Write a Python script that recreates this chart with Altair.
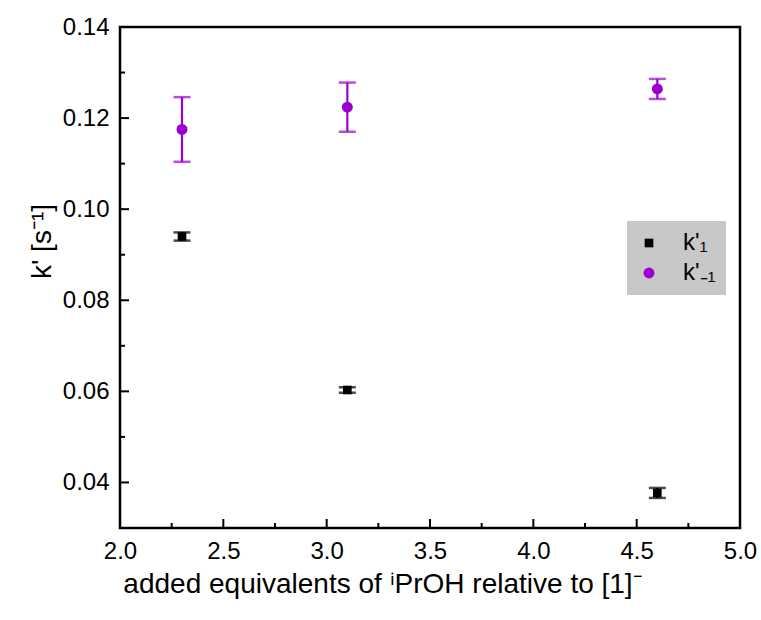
import altair as alt
import pandas as pd

# data
x_vals = [2.3, 3.1, 4.6]
k1 = [0.0940, 0.0603, 0.0377]
k1_err = [0.0009, 0.0006, 0.0011]
km1 = [0.1175, 0.1224, 0.1264]
km1_err = [0.0071, 0.0054, 0.0022]
series_names = ["k'\u2081", "k'\u208b\u2081"]
colors = ["#000000", "#9B00D0"]

y_major = [0.04, 0.06, 0.08, 0.10, 0.12, 0.14]
y_minor = [0.03, 0.05, 0.07, 0.09, 0.11, 0.13]
x_major = [2.0, 2.5, 3.0, 3.5, 4.0, 4.5, 5.0]
x_minor = [2.25, 2.75, 3.25, 3.75, 4.25, 4.75]

rows = []
for xv, v, e in zip(x_vals, k1, k1_err):
    rows.append({"x": xv, "y": v, "lo": v - e, "hi": v + e, "s": series_names[0]})
for xv, v, e in zip(x_vals, km1, km1_err):
    rows.append({"x": xv, "y": v, "lo": v - e, "hi": v + e, "s": series_names[1]})
df = pd.DataFrame(rows)

FONT = "Liberation Sans"
xscale = alt.Scale(domain=[2.0, 5.0], nice=False, zero=False)
yscale = alt.Scale(domain=[0.03, 0.14], nice=False, zero=False)
cscale = alt.Scale(domain=series_names, range=colors)

base = alt.Chart(df)

points = base.mark_point(filled=True, opacity=1).encode(
    x=alt.X("x:Q", scale=xscale,
            axis=alt.Axis(values=x_major, format=".1f",
                          title="added equivalents of \u2071PrOH relative to [1]\u207b",
                          titlePadding=7, labelFontSize=24, titleFontSize=28,
                          labelFont=FONT, titleFont=FONT, labelPadding=11,
                          labelFlush=False, titleX=262, titleAlign="center")),
    y=alt.Y("y:Q", scale=yscale,
            axis=alt.Axis(values=y_major, format=".2f", title="k' [s\u207b\u00b9]",
                          titlePadding=6, labelFontSize=24, titleFontSize=28,
                          labelFont=FONT, titleFont=FONT, labelPadding=11,
                          labelFlush=False, titleY=214, titleAlign="center")),
    color=alt.Color("s:N", scale=cscale,
                    legend=alt.Legend(title=None, orient="none", legendX=507, legendY=194,
                                      fillColor="#C8C8C8", padding=10, rowPadding=6,
                                      labelFontSize=24, labelFont=FONT, symbolSize=110,
                                      symbolStrokeWidth=0, labelOffset=22, labelLimit=200)),
    shape=alt.Shape("s:N", scale=alt.Scale(domain=series_names, range=["square", "circle"])),
    size=alt.Size("s:N", scale=alt.Scale(domain=series_names, range=[75, 120])),
)

bars = base.mark_rule(strokeWidth=2.2).encode(
    x=alt.X("x:Q", scale=xscale),
    y=alt.Y("lo:Q", scale=yscale),
    y2="hi:Q",
    color=alt.Color("s:N", scale=cscale),
)
cap_lo = base.mark_tick(orient="horizontal", size=17, thickness=2.5).encode(
    x=alt.X("x:Q", scale=xscale),
    y=alt.Y("lo:Q", scale=yscale),
    color=alt.Color("s:N", scale=cscale),
)
cap_hi = base.mark_tick(orient="horizontal", size=17, thickness=2.5).encode(
    x=alt.X("x:Q", scale=xscale),
    y=alt.Y("hi:Q", scale=yscale),
    color=alt.Color("s:N", scale=cscale),
)

ytk = pd.DataFrame({"v": y_major + y_minor, "major": [1] * len(y_major) + [0] * len(y_minor)})
xtk = pd.DataFrame({"v": x_major + x_minor, "major": [1] * len(x_major) + [0] * len(x_minor)})

ytick_major = alt.Chart(ytk).transform_filter("datum.major == 1").mark_rule(color="black", strokeWidth=2).encode(
    y=alt.Y("v:Q", scale=yscale), x=alt.value(0), x2=alt.value(9))
ytick_minor = alt.Chart(ytk).transform_filter("datum.major == 0").mark_rule(color="black", strokeWidth=2).encode(
    y=alt.Y("v:Q", scale=yscale), x=alt.value(0), x2=alt.value(5))
xtick_major = alt.Chart(xtk).transform_filter("datum.major == 1").mark_rule(color="black", strokeWidth=2).encode(
    x=alt.X("v:Q", scale=xscale), y=alt.value(501), y2=alt.value(492))
xtick_minor = alt.Chart(xtk).transform_filter("datum.major == 0").mark_rule(color="black", strokeWidth=2).encode(
    x=alt.X("v:Q", scale=xscale), y=alt.value(501), y2=alt.value(496))

chart = alt.layer(
    points, ytick_major, ytick_minor, xtick_major, xtick_minor, bars, cap_lo, cap_hi
).properties(
    width=620, height=501,
    background="white",
    autosize=alt.AutoSizeParams(type="none"),
    padding={"left": 120, "top": 27, "right": 21, "bottom": 92},
).configure_view(
    stroke="black", strokeWidth=2.5
).configure_axis(
    grid=False, domain=False, ticks=False,
    labelColor="black", titleColor="black", titleFontWeight="normal",
)

chart.save("out.html", embed_options={"renderer": "svg", "actions": False})
